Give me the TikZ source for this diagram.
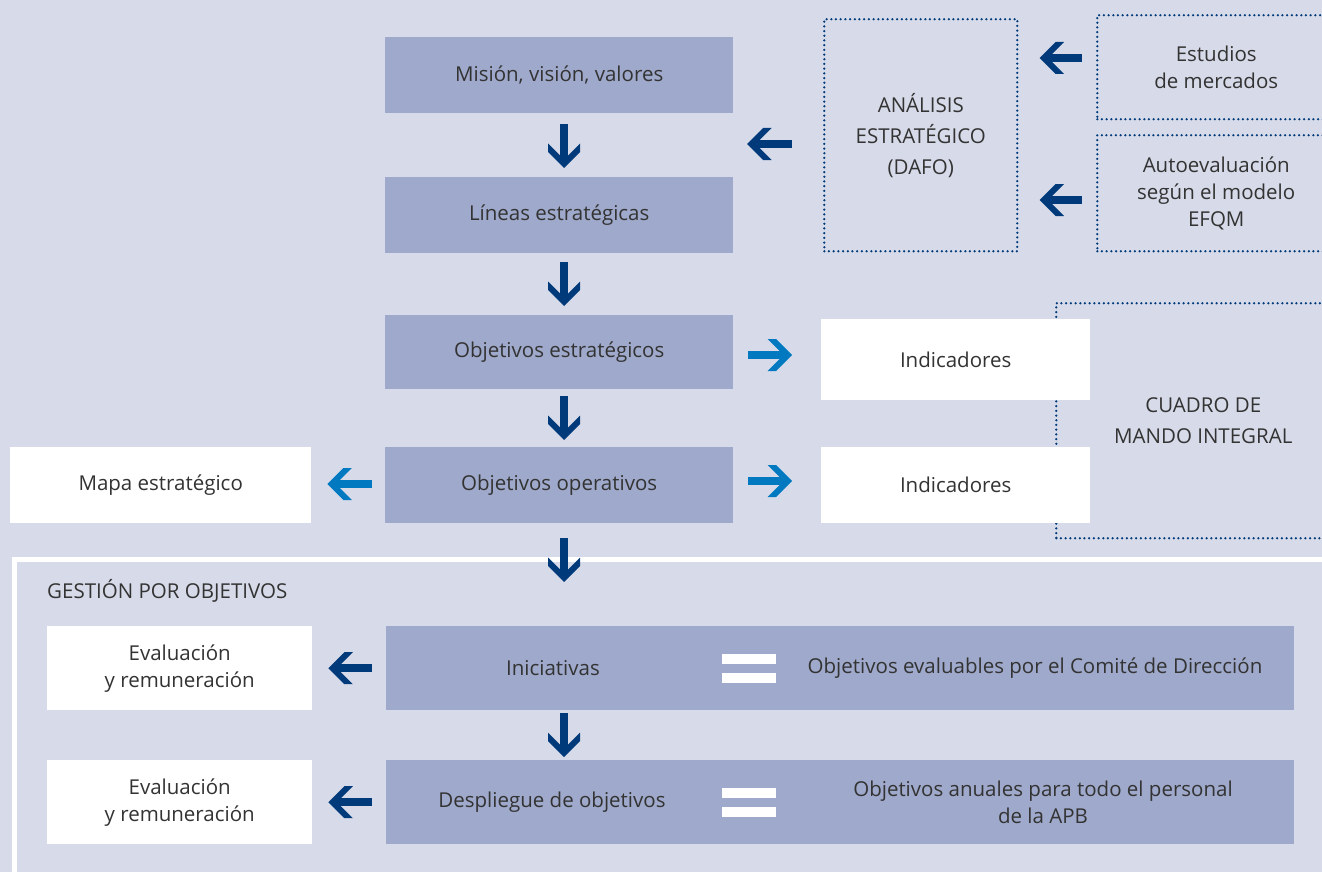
\documentclass[tikz,border=0pt]{standalone}
\usepackage{fontspec}
\setmainfont{Open Sans}
\usetikzlibrary{arrows.meta}
\definecolor{bgc}{RGB}{215,219,233}
\definecolor{boxc}{RGB}{159,169,203}
\definecolor{txtc}{RGB}{51,51,51}
\definecolor{dblue}{RGB}{0,58,122}
\definecolor{lblue}{RGB}{0,121,193}
\pgfdeclarearrow{
  name=Chev,
  setup code={
    \pgfarrowssettipend{0pt}
    \pgfarrowssetlineend{-11pt}
    \pgfarrowssetbackend{-24.5pt}
    \pgfarrowshullpoint{0pt}{0pt}
    \pgfarrowshullpoint{-24.5pt}{16pt}
    \pgfarrowshullpoint{-24.5pt}{-16pt}
  },
  drawing code={
    \pgfpathmoveto{\pgfqpoint{0pt}{0pt}}
    \pgfpathlineto{\pgfqpoint{-16pt}{16pt}}
    \pgfpathlineto{\pgfqpoint{-24.5pt}{16pt}}
    \pgfpathlineto{\pgfqpoint{-12.5pt}{4pt}}
    \pgfpathlineto{\pgfqpoint{-12.5pt}{-4pt}}
    \pgfpathlineto{\pgfqpoint{-24.5pt}{-16pt}}
    \pgfpathlineto{\pgfqpoint{-16pt}{-16pt}}
    \pgfpathclose
    \pgfusepathqfill
  }
}
\tikzset{
  bluebox/.style={fill=boxc, anchor=north west, inner sep=0pt, text=txtc, align=center},
  whitebox/.style={fill=white, anchor=north west, inner sep=0pt, text=txtc, align=center},
  dotbox/.style={draw=dblue, line width=2.5pt, dash pattern=on 0pt off 4.7pt, line cap=round, anchor=north west, inner sep=0pt, text=txtc, align=center},
  lbl/.style={text=txtc, inner sep=0pt, align=center},
  conn/.style={draw=dblue, fill=dblue, line width=8pt, -Chev},
  lconn/.style={draw=lblue, fill=lblue, line width=8pt, -Chev},
  eqbar/.style={fill=white},
  caps/.style={font=\fontsize{20.5}{31}\selectfont}
}
\begin{document}
\begin{tikzpicture}[x=1pt,y=-1pt,font=\fontsize{20.5}{27}\selectfont]
\useasboundingbox (0,0) rectangle (1322,872);
\fill[bgc] (0,0) rectangle (1322,872);
\clip (0,0) rectangle (1322,872);

% main column
\node[bluebox, minimum width=348pt, minimum height=76pt] (misn) at (385,37) {Misión, visión, valores};
\node[bluebox, minimum width=348pt, minimum height=76pt] (lin) at (385,177) {Líneas estratégicas};
\node[bluebox, minimum width=348pt, minimum height=74pt] (oest) at (385,315) {Objetivos estratégicos};
\node[bluebox, minimum width=348pt, minimum height=76pt] (oop) at (385,447) {Objetivos operativos};

% dotted boxes
\node[dotbox, caps, minimum width=193pt, minimum height=232pt] (ana) at (823,18) {ANÁLISIS\\ESTRATÉGICO\\(DAFO)};
\node[dotbox, minimum width=238pt, minimum height=104pt] (est) at (1096,14) {Estudios\\de mercados};
\node[dotbox, minimum width=238pt, minimum height=116pt] (auto) at (1096,134) {Autoevaluación\\según el modelo\\EFQM};
\node[dotbox, caps, minimum width=294pt, minimum height=235pt] (cmi) at (1055,302) {CUADRO DE\\MANDO INTEGRAL};

% white boxes
\node[whitebox, minimum width=269pt, minimum height=81pt] (ind1) at (821,319) {Indicadores};
\node[whitebox, minimum width=269pt, minimum height=76pt] (ind2) at (821,447) {Indicadores};
\node[whitebox, minimum width=301pt, minimum height=76pt] (mapa) at (10,447) {Mapa estratégico};

% frame
\draw[white, line width=5pt] (14.5,900) -- (14.5,559) -- (1400,559);
\node[lbl, anchor=base west] (gpo) at (47,598) {GESTIÓN POR OBJETIVOS};

% lower rows
\node[bluebox, minimum width=908pt, minimum height=84pt] (ini) at (386,626) {};
\node[bluebox, minimum width=908pt, minimum height=84pt] (desp) at (386,760) {};
\node[whitebox, minimum width=265pt, minimum height=84pt] (ev1) at (47,626) {Evaluación\\y remuneración};
\node[whitebox, minimum width=265pt, minimum height=84pt] (ev2) at (47,760) {Evaluación\\y remuneración};

\node[lbl] (iniL) at (553,668) {Iniciativas};
\node[lbl] (iniR) at (1035,668) {Objetivos evaluables por el Comité de Dirección};
\fill[eqbar] (722,654) rectangle (776,664);
\fill[eqbar] (722,673) rectangle (776,683);

\node[lbl] (despL) at (552,802) {Despliegue de objetivos};
\node[lbl] (despR) at (1043,802) {Objetivos anuales para todo el personal\\de la APB};
\fill[eqbar] (722,788) rectangle (776,798);
\fill[eqbar] (722,807) rectangle (776,817);

% connectors
\coordinate (ax) at (564,0);
\draw[conn, shorten <=11pt, shorten >=9pt] (misn.south -| ax) -- (lin.north -| ax);
\draw[conn, shorten <=9pt, shorten >=9pt] (lin.south -| ax) -- (oest.north -| ax);
\draw[conn, shorten <=7pt, shorten >=7pt] (oest.south -| ax) -- (oop.north -| ax);
\draw[conn, shorten <=15pt, shorten >=44pt] (oop.south -| ax) -- (ini.north -| ax);
\draw[conn, shorten <=3pt, shorten >=3pt] (ini.south -| ax) -- (desp.north -| ax);

\coordinate (c1) at (733,144);
\draw[conn, shorten <=31pt, shorten >=14pt] (ana.west |- c1) -- (c1);
\coordinate (c2) at (0,58);
\coordinate (c3) at (0,200);
\draw[conn, shorten <=14pt, shorten >=21pt] (est.west |- c2) -- (ana.east |- c2);
\draw[conn, shorten <=14pt, shorten >=21pt] (auto.west |- c3) -- (ana.east |- c3);

\coordinate (c4) at (0,355);
\coordinate (c5) at (0,481);
\coordinate (c6) at (0,484);
\draw[lconn, shorten <=15pt, shorten >=29pt] (oest.east |- c4) -- (ind1.west |- c4);
\draw[lconn, shorten <=15pt, shorten >=29pt] (oop.east |- c5) -- (ind2.west |- c5);
\draw[lconn, shorten <=13pt, shorten >=16pt] (oop.west |- c6) -- (mapa.east |- c6);

\draw[conn, shorten <=14pt, shorten >=16pt] (ini.west) -- (ev1.east);
\draw[conn, shorten <=14pt, shorten >=16pt] (desp.west) -- (ev2.east);
\end{tikzpicture}
\end{document}
